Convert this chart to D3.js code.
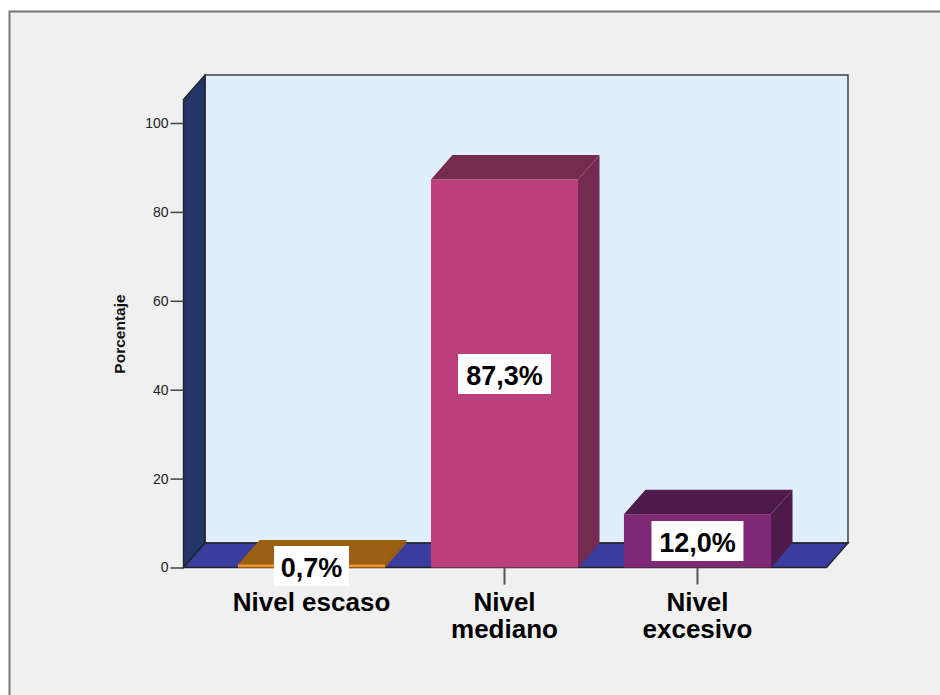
<!DOCTYPE html>
<html><head><meta charset="utf-8">
<script src="https://cdn.jsdelivr.net/npm/d3@7"></script>
<style>html,body{margin:0;padding:0;background:#fff;overflow:hidden}svg{display:block}text{font-family:"Liberation Sans",Arial,sans-serif}</style>
</head><body><svg id="c" width="940" height="695"></svg>
<script>
const categories = ["Nivel escaso", "Nivel mediano", "Nivel excesivo"];
const categoryLines = [["Nivel escaso"], ["Nivel", "mediano"], ["Nivel", "excesivo"]];
const values = [0.7, 87.3, 12.0];
const valueLabels = ["0,7%", "87,3%", "12,0%"];
const frontColors = ["#f7941d", "#bb3f7b", "#7f2875"];
const topColors = ["#9a5f12", "#752a50", "#4f1b4a"];
const sideColors = ["#9a5f12", "#752a50", "#4f1b4a"];
const yTicks = [0, 20, 40, 60, 80, 100];

const svg = d3.select("#c");
const W = 940, H = 695;
const dx = 21.5, dy = -24.5;
const y = d3.scaleLinear().domain([0, 100]).range([567.5, 123]);
const x = d3.scaleBand().domain(categories).range([238, 771]).paddingInner(0.238).paddingOuter(0);
const left = 183.5, right = 826.5, yTop = 99.5, yBase = y(0);
const poly = pts => pts.map(p => p.join(",")).join(" ");

svg.append("rect").attr("width", W).attr("height", H).attr("fill", "#fff");
svg.append("rect").attr("x", 9.5).attr("y", 11.5).attr("width", W + 20).attr("height", H + 20)
  .attr("fill", "#f0f0f0").attr("stroke", "#767676").attr("stroke-width", 2);

// back wall
svg.append("rect").attr("x", left + dx).attr("y", yTop + dy).attr("width", right - left).attr("height", yBase - yTop)
  .attr("fill", "#e1eefb").attr("stroke", "#33363d").attr("stroke-width", 1.4);
// left wall
svg.append("polygon").attr("points", poly([[left, yTop], [left + dx, yTop + dy], [left + dx, yBase + dy], [left, yBase]]))
  .attr("fill", "#243668").attr("stroke", "#20242e").attr("stroke-width", 1.4);
// floor
svg.append("polygon").attr("points", poly([[left, yBase], [left + dx, yBase + dy], [right + dx, yBase + dy], [right, yBase]]))
  .attr("fill", "#3b3d9e").attr("stroke", "#20242e").attr("stroke-width", 1.4);

// axis
const axis = d3.axisLeft(y).tickValues(yTicks).tickSize(13).tickPadding(2).tickFormat(d3.format("d"));
const gy = svg.append("g").attr("transform", `translate(${left},0)`).call(axis);
gy.select(".domain").remove();
gy.selectAll("line").attr("stroke", "#444").attr("stroke-width", 1.5);
gy.selectAll("text").attr("font-size", 14).attr("fill", "#222").attr("dx", 0);

svg.append("text").attr("transform", "translate(124.5,334) rotate(-90)").attr("text-anchor", "middle")
  .attr("font-size", 15.5).attr("font-weight", "bold").attr("fill", "#111").text("Porcentaje");

// category ticks
svg.append("g").selectAll("line").data(categories.slice(1)).join("line")
  .attr("x1", d => x(d) + x.bandwidth() / 2).attr("x2", d => x(d) + x.bandwidth() / 2)
  .attr("y1", yBase).attr("y2", yBase + 17).attr("stroke", "#555").attr("stroke-width", 2);

// bars
categories.forEach((c, i) => {
  const x0 = x(c), x1 = x0 + x.bandwidth(), yv = y(values[i]);
  const g = svg.append("g");
  g.append("polygon").attr("points", poly([[x1, yv], [x1 + dx, yv + dy], [x1 + dx, yBase + dy], [x1, yBase]])).attr("fill", sideColors[i]);
  g.append("polygon").attr("points", poly([[x0, yv], [x0 + dx, yv + dy], [x1 + dx, yv + dy], [x1, yv]])).attr("fill", topColors[i]);
  g.append("rect").attr("x", x0).attr("y", yv).attr("width", x.bandwidth()).attr("height", yBase - yv).attr("fill", frontColors[i]);
});

// value labels
const boxW = [75, 93, 92], boxH = 40;
const boxCy = [566, 374, 541];
categories.forEach((c, i) => {
  const cx = x(c) + x.bandwidth() / 2;
  svg.append("rect").attr("x", cx - boxW[i] / 2).attr("y", boxCy[i] - boxH / 2).attr("width", boxW[i]).attr("height", boxH).attr("fill", "#fff");
  svg.append("text").attr("x", cx).attr("y", boxCy[i] + 10.5).attr("text-anchor", "middle")
    .attr("font-size", 27).attr("font-weight", "bold").attr("fill", "#000").text(valueLabels[i]);
});

// category labels
categories.forEach((c, i) => {
  const cx = x(c) + x.bandwidth() / 2;
  categoryLines[i].forEach((line, j) => {
    svg.append("text").attr("x", cx).attr("y", 611 + j * 27).attr("text-anchor", "middle")
      .attr("font-size", 26).attr("font-weight", "bold").attr("fill", "#000").text(line);
  });
});
</script></body></html>
